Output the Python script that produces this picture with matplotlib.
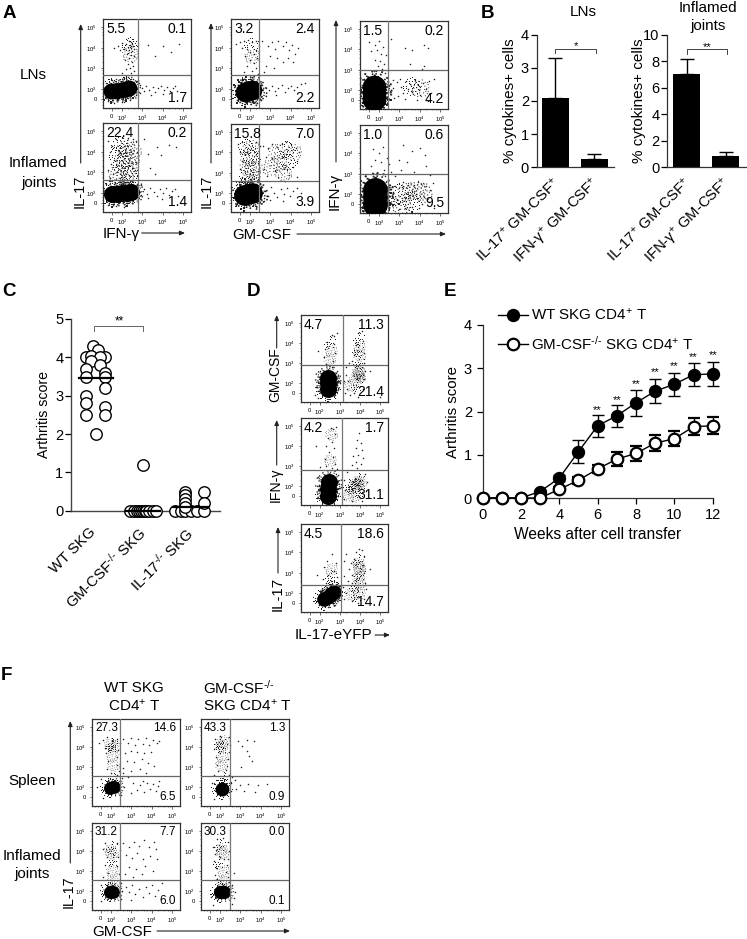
from matplotlib import use as setRenderingBackend
setRenderingBackend('Agg')

from numpy import log10
from matplotlib import pyplot as plt
from matplotlib.lines import Line2D
from matplotlib.markers import MarkerStyle
from matplotlib.path import Path
from matplotlib.transforms import Affine2D

W, H = 747, 939

plt.rcParams['font.family'] = ['Liberation Sans', 'DejaVu Sans']
plt.rcParams['mathtext.fontset'] = 'custom'
plt.rcParams['mathtext.rm'] = 'Liberation Sans'
plt.rcParams['mathtext.default'] = 'regular'

KO = '$^{\u2010/\u2010}$'

# Bars (panel B)
B_LN_VALUES = [2.1, 0.25]
B_LN_ERRORS = [1.2, 0.15]
B_JOINT_VALUES = [7.0, 0.85]
B_JOINT_ERRORS = [1.15, 0.3]
B_LABELS = ['IL-17$^{+}$ GM-CSF$^{+}$', 'IFN-γ$^{+}$ GM-CSF$^{+}$']

# Arthritis score per mouse (panel C): offset inside the group, score
C_WT = [(-0.06, 4.3), (0.04, 4.2), (-0.2, 4.0), (0.2, 4.0), (-0.1, 4.03), (0.09, 4.02), (-0.1, 3.9), (0.09, 3.8),
        (-0.2, 3.7), (0.2, 3.6), (-0.2, 3.5), (0.2, 3.5), (0.2, 3.2), (-0.2, 3.0), (-0.2, 2.8), (0.2, 2.7),
        (-0.2, 2.5), (0.2, 2.5), (0.0, 2.0)]
C_GM = [(-0.27, 0), (-0.2, 0), (-0.13, 0), (-0.08, 0), (-0.04, 0), (0, 0), (0.03, 0), (0.07, 0), (0.13, 0),
        (0.2, 0), (0.27, 0), (0, 1.2)]
C_IL17 = [(-0.32, 0), (-0.2, 0), (-0.11, 0), (0, 0), (0.13, 0), (0.28, 0), (-0.11, 0.5), (-0.11, 0.4), (-0.11, 0.3),
          (-0.11, 0.2), (-0.11, 0.1), (0.28, 0.5), (0.28, 0.2)]
C_MEANS = [3.45, 0.0, 0.1]
C_LABELS = ['WT SKG', 'GM-CSF' + KO + ' SKG', 'IL-17' + KO + ' SKG']

# Time course (panel E)
E_WEEKS = list(range(13))
E_WT = [0, 0, 0, 0.15, 0.46, 1.07, 1.67, 1.9, 2.2, 2.47, 2.63, 2.85, 2.87]
E_WT_ERR = [0, 0, 0, 0.04, 0.07, 0.27, 0.25, 0.25, 0.3, 0.27, 0.27, 0.27, 0.28]
E_KO = [0, 0, 0, 0, 0.2, 0.41, 0.67, 0.9, 1.03, 1.27, 1.37, 1.65, 1.67]
E_KO_ERR = [0, 0, 0, 0, 0.05, 0.08, 0.1, 0.17, 0.17, 0.18, 0.17, 0.19, 0.2]
E_STAR_WEEKS = [6, 7, 8, 9, 10, 11, 12]
E_STAR_Y = [2.05, 2.28, 2.65, 2.94, 3.08, 3.28, 3.32]

# Cytometry events, hand in decades of the axes.
# The dense parts are kept as a few core positions, the grainy parts as haze positions,
# the loose events as single dots.
A1T_CORE = [(1.45, 1.9), (1.7, 1.92), (1.95, 1.95), (2.2, 2.0), (2.35, 2.05)]
A1T_HAZE = [(2.4, 4.1), (2.4, 3.7)]
A1T_DOTS = [(2.35, 4.35), (2.45, 4.3), (2.5, 4.2), (2.4, 4.15), (2.55, 4.1), (2.3, 4.05), (2.45, 4.0), (2.6, 3.95),
            (2.35, 3.9), (2.5, 3.85), (2.2, 4.2), (2.0, 4.25), (1.8, 4.1), (1.9, 3.9), (2.1, 3.95), (1.6, 4.0),
            (2.25, 3.7), (2.45, 3.65), (2.6, 3.6), (2.35, 3.5), (2.15, 3.4), (2.5, 3.3), (2.3, 3.2), (2.55, 3.1),
            (2.4, 3.0), (2.2, 2.95), (2.6, 2.85), (2.0, 2.75), (2.45, 2.75), (2.3, 2.6), (2.1, 2.55), (2.55, 2.5),
            (1.7, 2.5), (3.3, 4.15), (4.0, 4.1), (4.8, 4.2), (3.6, 3.6), (4.4, 3.8), (2.9, 2.2), (3.0, 2.05),
            (3.1, 1.9), (3.2, 2.15), (3.35, 1.95), (3.5, 2.1), (3.6, 1.85), (3.75, 2.05), (3.9, 2.15), (4.05, 1.95),
            (4.2, 2.1), (4.35, 1.9), (4.5, 2.05), (4.6, 2.15), (4.7, 1.9), (3.45, 1.7), (4.0, 1.75), (2.9, 1.8),
            (1.3, 1.4), (1.6, 1.3), (2.0, 1.35), (2.4, 1.45), (2.7, 1.7), (2.75, 2.4), (1.2, 2.3), (1.5, 2.45)]

A1B_CORE = [(1.5, 1.95), (1.75, 1.95), (2.0, 1.98), (2.25, 2.0), (2.45, 2.05)]
A1B_HAZE = [(1.9, 4.3), (2.2, 4.2), (2.5, 4.1), (1.8, 3.8), (2.1, 3.7), (2.4, 3.7), (2.0, 3.3), (2.3, 3.2),
            (2.1, 2.8), (2.4, 2.8), (1.75, 2.9)]
A1B_DOTS = [(1.3, 4.5), (1.5, 4.3), (1.4, 4.0), (1.6, 3.6), (1.45, 3.4), (1.3, 3.1), (1.55, 2.9), (1.4, 2.7),
            (2.7, 4.5), (2.75, 4.0), (2.7, 3.5), (2.65, 3.1), (2.75, 2.8), (1.7, 4.6), (2.0, 4.7), (2.3, 4.65),
            (2.55, 4.6), (1.9, 4.0), (2.2, 3.95), (2.5, 3.45), (1.75, 3.3), (2.2, 2.9), (1.9, 2.7), (2.5, 2.6),
            (3.1, 4.6), (3.7, 4.25), (4.3, 4.35), (4.65, 4.25), (3.3, 3.9), (3.9, 3.85), (3.4, 3.2), (3.6, 2.9),
            (2.95, 2.4), (3.1, 2.2), (3.25, 1.95), (3.4, 2.25), (3.55, 2.05), (3.7, 1.85), (3.85, 2.2), (4.0, 2.0),
            (4.15, 2.25), (4.3, 1.9), (4.45, 2.1), (4.6, 2.2), (4.75, 1.85), (3.3, 1.75), (3.95, 1.7), (2.95, 1.9),
            (1.3, 1.4), (1.7, 1.35), (2.1, 1.3), (2.5, 1.5), (2.8, 1.7), (1.2, 2.45), (2.75, 2.45), (2.2, 2.55)]

A2T_CORE = [(1.75, 1.85), (1.95, 1.9), (2.1, 1.95)]
A2T_HAZE = [(2.1, 4.1), (2.1, 3.6)]
A2T_DOTS = [(1.3, 4.2), (1.5, 4.3), (1.7, 4.35), (1.9, 4.4), (2.1, 4.3), (2.3, 4.35), (2.45, 4.1), (1.6, 4.0),
            (1.85, 3.95), (2.3, 3.9), (2.0, 3.8), (2.2, 3.7), (1.75, 3.6), (2.35, 3.5), (2.0, 3.4), (2.2, 3.25),
            (1.85, 3.1), (2.3, 3.0), (2.1, 2.85), (1.7, 2.8), (2.4, 2.7), (2.6, 4.35), (2.9, 4.1), (3.1, 4.3),
            (3.25, 3.95), (3.4, 4.35), (3.6, 4.1), (3.75, 4.3), (3.9, 3.9), (4.05, 4.15), (4.2, 3.7), (4.35, 4.0),
            (3.0, 3.6), (3.35, 3.5), (3.6, 3.3), (3.85, 3.5), (4.1, 3.3), (2.8, 3.1), (3.2, 3.0), (2.7, 2.8),
            (2.6, 2.2), (2.8, 2.05), (2.95, 1.95), (3.1, 2.15), (3.25, 1.9), (3.4, 2.05), (3.55, 2.2), (3.7, 1.85),
            (3.85, 2.05), (4.0, 2.15), (4.15, 1.95), (4.3, 2.1), (4.5, 2.25), (4.7, 2.3), (3.3, 1.7), (2.3, 2.4),
            (2.0, 2.5), (1.7, 2.35), (1.3, 1.85), (2.5, 1.9), (1.6, 1.3), (2.1, 1.35)]

A2B_CORE = [(1.7, 1.9), (1.9, 1.95), (2.1, 2.0)]
A2B_HAZE = [(1.85, 4.2), (2.05, 4.2), (1.9, 3.8), (2.1, 3.7), (1.9, 3.3), (2.1, 3.2), (1.9, 2.8), (2.1, 2.8),
            (3.3, 4.0), (3.8, 4.1), (4.1, 4.0), (3.4, 3.5), (3.9, 3.5), (3.0, 3.3), (3.6, 3.0)]
A2B_DOTS = [(1.4, 4.4), (1.6, 4.5), (2.3, 4.5), (2.5, 4.3), (1.5, 4.0), (2.35, 3.95), (1.6, 3.6), (2.4, 3.5),
            (1.5, 3.2), (2.4, 3.1), (1.6, 2.8), (2.4, 2.7), (2.65, 4.3), (2.9, 4.2), (3.1, 4.4), (3.35, 4.25),
            (3.55, 4.4), (3.75, 4.5), (4.0, 4.4), (4.25, 4.2), (4.4, 4.0), (2.8, 3.8), (3.1, 3.75), (3.6, 3.8),
            (4.3, 3.6), (2.7, 3.2), (3.25, 3.1), (3.8, 3.2), (4.1, 3.3), (2.85, 2.85), (3.4, 2.8), (3.9, 2.9),
            (4.3, 2.8), (2.6, 2.3), (2.75, 2.1), (2.9, 1.85), (3.05, 2.3), (3.2, 2.0), (3.35, 1.8), (3.5, 2.2),
            (3.65, 1.95), (3.8, 2.25), (3.95, 1.85), (4.1, 2.1), (4.3, 2.25), (4.5, 2.0), (3.0, 1.65), (3.6, 1.6),
            (2.7, 1.6), (1.3, 1.4), (1.7, 1.3), (2.3, 1.35), (1.3, 2.4), (2.5, 2.5)]

A3T_CORE = [(1.75, 1.55), (1.75, 1.85), (1.78, 2.15)]
A3T_HAZE = [(3.6, 2.15), (4.0, 2.1)]
A3T_DOTS = [(1.5, 4.35), (1.8, 4.2), (2.0, 4.4), (2.2, 4.1), (1.6, 3.9), (1.9, 3.95), (2.1, 3.8), (2.35, 3.75),
            (1.8, 3.5), (2.05, 3.45), (2.25, 3.3), (1.95, 3.2), (2.15, 3.05), (1.75, 2.95), (2.3, 2.85), (2.05, 2.8),
            (2.6, 4.5), (3.3, 4.05), (3.6, 3.95), (4.2, 4.2), (4.4, 4.05), (3.5, 3.3), (4.2, 3.2), (4.1, 3.05),
            (2.9, 2.4), (3.1, 2.15), (3.2, 1.85), (3.35, 2.45), (3.5, 2.3), (3.6, 1.9), (3.75, 2.5), (3.9, 2.25),
            (4.0, 1.75), (4.15, 2.35), (4.3, 2.05), (4.45, 2.45), (3.3, 1.55), (3.85, 1.5), (2.95, 1.7), (3.05, 2.55),
            (4.55, 1.85), (4.7, 2.55), (4.4, 1.45), (2.7, 2.1), (2.75, 1.6), (2.7, 2.5), (3.45, 2.05), (3.95, 2.0)]

A3B_CORE = [(1.8, 1.5), (1.8, 1.85), (1.82, 2.2)]
A3B_HAZE = [(3.0, 2.0), (3.1, 1.5), (3.4, 2.1), (3.6, 1.6), (3.8, 2.2), (4.1, 2.1)]
A3B_DOTS = [(1.7, 4.2), (2.0, 4.0), (2.2, 4.3), (2.4, 3.8), (1.8, 3.7), (2.1, 3.6), (2.5, 3.5), (1.6, 3.4),
            (2.25, 3.2), (1.9, 3.05), (2.6, 3.1), (2.3, 2.9), (1.75, 2.85), (3.2, 4.4), (3.6, 4.1), (4.0, 4.25),
            (4.25, 3.9), (3.0, 3.7), (3.4, 3.6), (4.3, 3.4), (3.1, 3.2), (3.7, 3.1), (4.5, 2.95), (2.8, 2.9),
            (2.8, 2.4), (2.9, 1.7), (3.0, 1.25), (3.15, 2.35), (3.3, 1.8), (3.3, 1.3), (3.45, 2.45), (3.5, 1.95),
            (3.6, 1.35), (3.7, 2.45), (3.85, 1.8), (3.95, 1.3), (4.05, 2.5), (4.2, 1.85), (4.3, 2.4), (4.45, 1.6),
            (4.5, 2.2), (4.65, 2.55), (4.7, 1.3), (2.7, 2.1), (2.8, 1.45), (3.2, 2.6), (3.9, 2.6), (4.1, 1.5)]

D1_CORE = [(2.4, 1.7), (2.4, 2.0), (2.42, 2.25)]
D1_HAZE = [(2.5, 4.0), (2.55, 3.6), (2.45, 3.2), (3.95, 4.2), (3.95, 3.8), (3.95, 3.4), (3.95, 3.0), (3.75, 2.2),
           (3.5, 1.9), (3.85, 1.85), (3.95, 2.55), (3.9, 2.45), (3.98, 2.4), (3.92, 2.6), (3.95, 2.3), (3.9, 3.6)]
D1_DOTS = [(2.85, 4.5), (2.7, 4.35), (2.6, 4.4), (2.35, 4.05), (2.7, 3.95), (2.25, 3.7), (2.75, 3.5), (2.2, 3.3),
           (2.65, 3.1), (2.3, 2.95), (2.6, 2.8), (4.1, 4.6), (3.9, 4.5), (4.15, 4.1), (3.8, 3.9), (4.2, 3.5),
           (3.7, 3.4), (3.6, 3.1), (4.2, 3.0), (3.45, 3.0), (3.3, 2.8), (3.3, 2.4), (3.4, 2.1), (3.35, 1.7),
           (3.5, 1.4), (3.7, 1.5), (3.9, 1.3), (4.15, 1.7), (4.2, 2.2), (4.25, 2.6), (3.2, 2.1), (3.25, 1.5),
           (1.8, 1.8), (1.95, 2.3), (1.75, 1.4), (1.9, 1.25), (2.75, 1.4), (2.85, 2.1), (2.9, 1.7), (2.8, 2.5),
           (2.0, 2.6), (1.9, 3.6), (5.0, 1.3), (4.5, 2.6)]

D2_CORE = [(2.42, 1.5), (2.42, 1.85), (2.45, 2.2)]
D2_HAZE = [(3.45, 2.0), (3.4, 1.55), (3.7, 1.5), (3.95, 1.7), (2.5, 3.3), (2.55, 4.6), (3.95, 2.3), (3.9, 2.25),
           (3.98, 2.2), (3.75, 2.05), (3.7, 2.0), (3.85, 2.1), (3.6, 1.9)]
D2_DOTS = [(2.8, 4.95), (2.65, 4.85), (2.55, 4.9), (2.75, 4.6), (2.4, 4.4), (2.6, 4.2), (2.3, 4.0), (2.7, 3.9),
           (2.45, 3.7), (2.65, 3.45), (2.25, 3.35), (2.75, 3.1), (2.3, 3.0), (2.6, 2.9), (2.0, 2.95), (2.85, 2.85),
           (3.95, 4.65), (3.85, 4.3), (4.05, 4.15), (3.8, 3.9), (4.1, 3.8), (3.9, 3.55), (3.65, 3.5), (4.15, 3.4),
           (3.8, 3.2), (4.05, 3.1), (3.6, 3.05), (3.85, 2.9), (3.35, 2.7), (4.25, 2.6), (3.2, 2.3), (3.25, 1.8),
           (3.2, 1.35), (3.6, 1.25), (4.1, 1.25), (4.3, 1.75), (4.35, 2.2), (1.85, 1.4), (1.95, 2.0), (1.9, 2.45),
           (2.85, 2.1), (2.9, 1.5), (2.8, 2.6), (1.8, 4.0)]

D3_CORE = [(2.2, 1.7), (2.4, 1.8), (2.55, 1.95), (2.7, 2.05)]
D3_HAZE = [(3.95, 3.6), (3.95, 3.2), (3.9, 2.8), (3.75, 2.3), (3.95, 2.0), (3.5, 1.95), (2.55, 2.8), (2.55, 3.2),
           (3.95, 3.3), (4.0, 2.9), (3.9, 3.5), (3.95, 2.5), (3.85, 1.85)]
D3_DOTS = [(2.6, 3.9), (2.35, 3.6), (2.8, 3.5), (2.2, 3.3), (2.7, 3.1), (2.4, 2.9), (2.85, 2.8), (2.15, 2.7),
           (2.55, 2.6), (2.3, 2.5), (2.85, 2.45), (1.85, 2.9), (4.1, 4.1), (3.95, 4.15), (3.8, 4.0), (4.2, 3.85),
           (3.7, 3.7), (4.15, 3.4), (3.55, 3.5), (3.3, 3.9), (3.2, 3.6), (3.45, 3.2), (3.6, 2.9), (4.2, 3.0),
           (3.2, 2.85), (3.4, 2.6), (3.6, 2.5), (4.25, 2.5), (3.15, 2.3), (3.3, 2.0), (3.2, 1.7), (3.6, 1.6),
           (3.9, 1.5), (4.2, 1.7), (4.3, 2.2), (2.95, 2.0), (2.9, 1.7), (1.85, 1.75), (1.95, 1.4), (2.4, 1.3),
           (2.75, 1.4), (3.0, 2.35), (4.5, 3.2)]

F1T_CORE = [(1.95, 1.95), (2.15, 2.0)]
F1T_HAZE = [(2.05, 4.1), (1.95, 4.15), (2.15, 4.05), (2.05, 4.0), (2.05, 3.6), (2.1, 3.1), (2.15, 2.35)]
F1T_DOTS = [(1.4, 4.2), (1.6, 4.35), (1.7, 3.95), (1.8, 4.5), (2.3, 4.4), (2.45, 4.2), (2.35, 3.85), (1.75, 3.7),
            (2.3, 3.5), (1.85, 3.3), (2.3, 3.1), (1.8, 2.9), (2.4, 2.8), (2.0, 2.7), (2.6, 4.4), (2.85, 4.2),
            (3.0, 4.45), (3.2, 4.1), (3.35, 4.4), (3.55, 4.15), (3.7, 4.45), (3.85, 4.1), (4.05, 4.35), (4.25, 4.2),
            (4.35, 4.3), (2.7, 3.7), (3.0, 3.8), (3.3, 3.75), (3.6, 3.7), (3.95, 3.75), (2.8, 3.3), (3.15, 3.25),
            (3.5, 3.4), (3.8, 3.2), (4.1, 3.05), (2.6, 2.95), (3.0, 2.8), (3.45, 2.9), (3.7, 2.7), (2.6, 2.7),
            (2.85, 2.5), (3.1, 2.2), (3.3, 1.85), (3.45, 2.1), (3.6, 1.75), (3.75, 2.2), (3.9, 1.9), (4.05, 2.15),
            (4.2, 1.8), (4.3, 2.05), (4.35, 2.3), (3.0, 1.7), (3.55, 2.3), (2.55, 2.45), (2.45, 2.3), (2.3, 2.6),
            (2.65, 2.0), (1.6, 1.45), (2.5, 1.6), (1.3, 2.0), (1.5, 2.4)]

F2T_CORE = [(2.1, 1.9)]
F2T_HAZE = [(2.0, 4.2), (2.15, 4.3), (2.05, 4.05), (2.1, 3.95), (2.1, 3.5), (2.05, 3.1), (2.2, 2.4)]
F2T_DOTS = [(1.75, 4.4), (2.0, 4.55), (2.45, 4.5), (2.5, 4.1), (1.7, 3.9), (2.45, 3.75), (1.8, 3.5), (2.4, 3.4),
            (1.85, 3.1), (2.35, 3.05), (1.9, 2.8), (2.3, 2.85), (2.45, 2.6), (1.7, 2.6), (2.6, 2.5), (2.75, 2.35),
            (2.55, 2.2), (2.8, 1.9), (3.0, 2.1), (3.2, 1.8), (3.4, 2.15), (3.7, 1.75), (3.85, 2.1), (4.3, 2.15),
            (2.9, 4.3), (3.1, 4.05), (3.35, 4.35), (3.65, 4.3), (3.35, 3.8), (3.45, 3.55), (3.55, 3.3), (3.05, 3.0),
            (1.7, 1.4), (2.5, 1.45), (1.6, 2.2), (2.55, 1.8)]

F1B_CORE = [(1.95, 1.95), (2.1, 1.95)]
F1B_HAZE = [(2.05, 4.15), (1.95, 4.05), (2.05, 3.9), (2.1, 3.5), (2.05, 3.0), (2.1, 2.5)]
F1B_DOTS = [(1.7, 4.4), (1.6, 4.1), (2.3, 4.4), (2.45, 4.05), (1.8, 3.7), (2.35, 3.7), (1.7, 3.3), (2.3, 3.25),
            (1.85, 2.9), (2.4, 2.85), (1.6, 2.7), (2.5, 2.4), (1.5, 2.3), (2.6, 4.4), (2.9, 4.2), (3.15, 4.45),
            (3.4, 4.25), (3.6, 4.55), (3.85, 4.2), (4.1, 4.45), (4.2, 4.1), (2.75, 3.8), (3.05, 3.65), (3.3, 3.9),
            (3.55, 3.6), (3.9, 3.75), (4.25, 3.6), (2.9, 3.2), (3.25, 3.1), (3.65, 3.25), (4.05, 3.0), (2.7, 2.85),
            (3.1, 2.7), (3.5, 2.85), (2.75, 2.2), (2.9, 1.95), (3.05, 2.3), (3.2, 1.85), (3.4, 2.1), (3.55, 1.7),
            (3.7, 2.2), (3.85, 1.9), (4.0, 2.3), (4.15, 1.75), (4.3, 2.05), (4.5, 2.4), (4.45, 1.6), (3.0, 1.55),
            (1.5, 1.5), (2.5, 1.6), (2.55, 2.0), (2.45, 2.15)]

F2B_CORE = [(2.0, 1.95), (2.2, 1.95)]
F2B_HAZE = [(2.0, 4.25), (2.05, 4.1), (2.1, 3.9), (1.95, 3.4), (2.15, 3.0), (2.1, 2.5)]
F2B_DOTS = [(1.85, 4.6), (2.15, 4.65), (2.4, 4.45), (1.65, 4.2), (2.45, 4.0), (1.75, 3.85), (2.4, 3.6), (1.7, 3.5),
            (2.35, 3.3), (1.8, 3.15), (2.3, 2.95), (1.75, 2.8), (2.4, 2.7), (1.85, 2.6), (2.45, 2.45), (2.7, 2.9),
            (2.75, 1.95), (2.7, 1.65), (2.6, 2.3), (1.55, 1.7), (2.6, 1.35), (1.65, 1.3), (2.0, 3.7), (2.2, 3.6)]

# box in pixels, gates, corner percentages
FLOW_PANELS = [
    ((103, 19, 191, 108), 2.8, 2.67, ('5.5', '0.1', '1.7'), A1T_CORE, 130, A1T_HAZE, 150, A1T_DOTS, 10),
    ((103, 123, 191, 212), 2.8, 2.65, ('22.4', '0.2', '1.4'), A1B_CORE, 150, A1B_HAZE, 200, A1B_DOTS, 10),
    ((231, 19, 319, 108), 2.43, 2.67, ('3.2', '2.4', '2.2'), A2T_CORE, 200, A2T_HAZE, 130, A2T_DOTS, 10),
    ((231, 124, 319, 212), 2.43, 2.6, ('15.8', '7.0', '3.9'), A2B_CORE, 220, A2B_HAZE, 170, A2B_DOTS, 10),
    ((360, 21, 448, 109), 2.43, 3.0, ('1.5', '0.2', '4.2'), A3T_CORE, 290, A3T_HAZE, 200, A3T_DOTS, 10),
    ((360, 125, 448, 213), 2.43, 3.0, ('1.0', '0.6', '9.5'), A3B_CORE, 320, A3B_HAZE, 230, A3B_DOTS, 10),
    ((301, 315, 388, 402), 3.15, 2.91, ('4.7', '11.3', '21.4'), D1_CORE, 150, D1_HAZE, 90, D1_DOTS, 10),
    ((301, 418, 388, 505), 3.09, 2.83, ('4.2', '1.7', '31.1'), D2_CORE, 150, D2_HAZE, 90, D2_DOTS, 10),
    ((301, 524, 388, 612), 3.05, 2.39, ('4.5', '18.6', '14.7'), D3_CORE, 110, D3_HAZE, 90, D3_DOTS, 10),
    ((92, 719, 180, 806), 2.43, 2.57, ('27.3', '14.6', '6.5'), F1T_CORE, 85, F1T_HAZE, 90, F1T_DOTS, 8.5),
    ((201, 719, 289, 806), 2.5, 2.57, ('43.3', '1.3', '0.9'), F2T_CORE, 100, F2T_HAZE, 90, F2T_DOTS, 8.5),
    ((92, 823, 180, 910), 2.43, 2.54, ('31.2', '7.7', '6.0'), F1B_CORE, 85, F1B_HAZE, 90, F1B_DOTS, 8.5),
    ((201, 823, 289, 910), 2.5, 2.54, ('30.3', '0.0', '0.1'), F2B_CORE, 90, F2B_HAZE, 90, F2B_DOTS, 8.5),
]

DECADE_TICKS = [1.5, 2, 3, 4, 5]
DECADE_LABELS = ['0', '$10^2$', '$10^3$', '$10^4$', '$10^5$']
MINOR_TICKS = [d + log10(m) for d in (2, 3, 4) for m in (2, 4, 6, 8)] + [1.2, 1.35, 1.65, 1.8]

# grain of one stipple marker, a style and not data
GRAIN = [(-0.9, 0.1), (-0.75, -0.4), (-0.7, 0.45), (-0.55, 0.05), (-0.5, -0.7), (-0.45, 0.75), (-0.35, -0.25),
         (-0.3, 0.35), (-0.2, -0.85), (-0.15, 0.9), (-0.1, -0.5), (-0.05, 0.1), (0.05, 0.55), (0.1, -0.2),
         (0.15, -0.75), (0.25, 0.8), (0.3, 0.25), (0.35, -0.45), (0.45, 0.5), (0.5, -0.05), (0.55, -0.7),
         (0.65, 0.3), (0.7, -0.3), (0.8, 0.55), (0.9, -0.05), (-0.6, -0.2), (-0.25, 0.6), (0.2, -0.05),
         (0.05, 0.95), (0.4, 0.75), (-0.85, -0.2), (-0.4, -0.5), (0.75, 0.05), (0.0, -0.95)]


def stipple_marker(angle):
    squares = [Path.unit_rectangle().transformed(Affine2D().scale(0.1).translate(x - 0.05, y - 0.05))
               for x, y in GRAIN]
    return MarkerStyle(Path.make_compound_path(*squares).transformed(Affine2D().rotate_deg(angle)))


STIPPLES = [stipple_marker(angle) for angle in (0, 130, 250)]


def axes_px(fig, x0, y0, x1, y1):
    return fig.add_axes([x0 / W, 1 - y1 / H, (x1 - x0) / W, (y1 - y0) / H])


def shift_labels(labels, dx):
    for text in labels:
        text.set_transform(text.get_transform() + Affine2D().translate(dx, 0))


def draw_stipple(ax, points, size, zorder):
    for i, marker in enumerate(STIPPLES):
        part = points[i::3]
        if part:
            px, py = zip(*part)
            ax.scatter(px, py, s=size, marker=marker, color='#222222', linewidths=0, zorder=zorder)


def draw_flow(fig, box, x_gate, y_gate, labels, core, core_s, haze, haze_s, dots, size):
    ax = axes_px(fig, *box)
    ax.set_xlim(1.07, 5.39)
    ax.set_ylim(1.07, 5.4)
    draw_stipple(ax, haze, haze_s, 1)
    draw_stipple(ax, core, core_s * 2.6, 2)
    draw_stipple(ax, core, core_s * 1.8, 2)
    cx, cy = zip(*core)
    ax.scatter(cx, cy, s=core_s, color='black', linewidths=0, zorder=3)
    dx, dy = zip(*dots)
    ax.scatter(dx, dy, s=1.2, color='#222222', linewidths=0, zorder=3)
    ax.axvline(x_gate, color='#777777', lw=0.9, zorder=4)
    ax.axhline(y_gate, color='#666666', lw=0.9, zorder=4)
    for spine in ax.spines.values():
        spine.set_linewidth(0.9)
        spine.set_color('#333333')
    ax.set_xticks(DECADE_TICKS)
    ax.set_xticklabels(DECADE_LABELS, fontsize=4.2)
    ax.set_yticks(DECADE_TICKS)
    ax.set_yticklabels(DECADE_LABELS, fontsize=4.2)
    ax.set_xticks(MINOR_TICKS, minor=True)
    ax.set_yticks(MINOR_TICKS, minor=True)
    ax.tick_params(length=1.8, width=0.5, pad=2.5, color='#333333')
    ax.tick_params(which='minor', length=1, width=0.4, color='#333333')
    for text, corner, offset, ha, va in ((labels[0], (0, 1), (3, -3), 'left', 'top'),
                                         (labels[1], (1, 1), (-4, -3), 'right', 'top'),
                                         (labels[2], (1, 0), (-4, 3), 'right', 'bottom')):
        ax.annotate(text, xy=corner, xycoords='axes fraction', xytext=offset, textcoords='offset pixels',
                    fontsize=size, ha=ha, va=va, zorder=5)


def draw_bars(fig, box, ymax, ticks, values, errors, xlim, bracket_y, stars):
    ax = axes_px(fig, *box)
    ax.bar([0, 1], values, width=0.69, color='black')
    ax.errorbar([0, 1], values, yerr=[[0, 0], errors], fmt='none', ecolor='black', elinewidth=1, capsize=5, capthick=1)
    ax.set_xlim(*xlim)
    ax.set_ylim(0, ymax)
    ax.set_yticks(ticks)
    ax.tick_params(axis='y', labelsize=10.5, length=4, width=0.9, pad=1.5)
    ax.set_xticks([0, 1])
    ax.set_xticklabels(B_LABELS, rotation=45, ha='right', rotation_mode='anchor', fontsize=10.7)
    ax.tick_params(axis='x', length=0, pad=5)
    shift_labels(ax.get_xticklabels(), -4)
    for side in ('top', 'right'):
        ax.spines[side].set_visible(False)
    for side in ('left', 'bottom'):
        ax.spines[side].set_linewidth(0.9)
        ax.spines[side].set_color('#333333')
    drop = ymax * 0.035
    ax.plot([0.0, 0.0, 1.05, 1.05], [bracket_y - drop, bracket_y, bracket_y, bracket_y - drop], color='#444444',
            lw=0.7)
    ax.text(0.52, bracket_y - ymax * 0.02, stars, ha='center', va='bottom', fontsize=8)


def draw_c(fig):
    ax = axes_px(fig, 71, 319, 220, 510.7)
    ax.set_xlim(0.48, 3.62)
    ax.set_ylim(0, 5)
    for pos, group, mean in zip((1, 2, 3), (C_WT, C_GM, C_IL17), C_MEANS):
        offs, scores = zip(*group)
        ax.scatter([pos + o for o in offs], scores, s=68, facecolor='white', edgecolor='black', linewidths=1,
                   clip_on=False, zorder=3)
        ax.plot([pos - 0.36, pos + 0.36], [mean, mean], color='black', lw=1.6, zorder=4, clip_on=False)
    ax.set_xticks([1, 2, 3])
    ax.set_xticklabels(C_LABELS, rotation=45, ha='right', rotation_mode='anchor', fontsize=10.7)
    ax.tick_params(axis='x', length=0, pad=10)
    shift_labels(ax.get_xticklabels(), -7)
    ax.set_yticks(range(6))
    ax.tick_params(axis='y', labelsize=10.5, length=4, width=0.9, pad=1.5)
    for side in ('top', 'right'):
        ax.spines[side].set_visible(False)
    for side in ('left', 'bottom'):
        ax.spines[side].set_linewidth(1)
        ax.spines[side].set_color('#444444')
    ax.plot([0.96, 0.96, 2.0, 2.0], [4.69, 4.82, 4.82, 4.69], color='#666666', lw=0.7, clip_on=False)
    ax.text(1.5, 4.78, '**', ha='center', va='bottom', fontsize=8.5, clip_on=False)
    ax.set_ylabel('Arthritis score', fontsize=10.2, labelpad=3)


def draw_e(fig):
    ax = axes_px(fig, 482.5, 325, 712.7, 498)
    ax.set_xlim(0, 12)
    ax.set_ylim(0, 4)
    ax.errorbar(E_WEEKS, E_WT, yerr=E_WT_ERR, color='black', lw=1, capsize=4.5, capthick=1, elinewidth=1,
                marker='o', ms=8.6, mfc='black', mec='black', clip_on=False, zorder=3)
    ax.errorbar(E_WEEKS, E_KO, yerr=E_KO_ERR, color='black', lw=1, capsize=4.5, capthick=1, elinewidth=1,
                marker='o', ms=8.3, mfc='white', mec='black', mew=1.6, clip_on=False, zorder=4)
    for week, y in zip(E_STAR_WEEKS, E_STAR_Y):
        ax.text(week, y - 0.14, '**', ha='center', va='bottom', fontsize=8, clip_on=False)
    ax.set_xticks(range(0, 13, 2))
    ax.set_yticks(range(5))
    ax.tick_params(labelsize=10.5, length=4, width=0.9, pad=3.5)
    for side in ('top', 'right'):
        ax.spines[side].set_visible(False)
    for side in ('left', 'bottom'):
        ax.spines[side].set_linewidth(0.9)
        ax.spines[side].set_color('#333333')
    ax.set_xlabel('Weeks after cell transfer', fontsize=11.2, labelpad=3)
    ax.set_ylabel('Arthritis score', fontsize=10.8, labelpad=3)
    handles = [Line2D([], [], color='black', lw=1, marker='o', ms=8.6, mfc='black', mec='black'),
               Line2D([], [], color='black', lw=1, marker='o', ms=8.3, mfc='white', mec='black', mew=1.6)]
    ax.legend(handles, ['WT SKG CD4$^{+}$ T', 'GM-CSF' + KO + ' SKG CD4$^{+}$ T'], loc='upper left',
              bbox_to_anchor=(498 / W, 1 - 307 / H), bbox_transform=fig.transFigure, frameon=False, fontsize=10.9,
              handlelength=1.95, handletextpad=0.25, labelspacing=0.75, borderpad=0, borderaxespad=0)


def main():
    fig = plt.figure(figsize=(W / 100, H / 100), dpi=100)

    for panel in FLOW_PANELS:
        draw_flow(fig, *panel)

    draw_bars(fig, (536.7, 34.7, 614, 167.3), 4, range(5), B_LN_VALUES, B_LN_ERRORS, (-0.474, 1.5), 3.58, '*')
    draw_bars(fig, (667, 34.7, 747, 167.3), 10, range(0, 11, 2), B_JOINT_VALUES, B_JOINT_ERRORS, (-0.5, 1.55), 8.9,
              '**')

    draw_c(fig)
    draw_e(fig)

    # pixel overlay for letters, side labels and arrows
    top = fig.add_axes([0, 0, 1, 1], zorder=10)
    top.set_xlim(0, W)
    top.set_ylim(H, 0)
    top.axis('off')
    top.patch.set_alpha(0)

    def label(x, y, s, size=11, ha='center', rotation=0, weight='normal'):
        top.text(x, y, s, fontsize=size, ha=ha, va='center', rotation=rotation, fontweight=weight)

    def arrow(x0, y0, x1, y1):
        top.annotate('', xy=(x1, y1), xytext=(x0, y0),
                     arrowprops=dict(arrowstyle='-|>,head_width=0.13,head_length=0.3', color='#222222', lw=0.8,
                                     shrinkA=0, shrinkB=0))

    for letter, x, y in (('A', 9, 14), ('B', 488, 13), ('C', 9, 292), ('D', 254, 292), ('E', 450, 292), ('F', 6, 675)):
        label(x, y, letter, size=13.5, weight='bold')

    label(33.7, 74.7, 'LNs')
    label(38, 163, 'Inflamed')
    label(38.7, 183, 'joints')
    label(80, 191.7, 'IL-17', rotation=90, size=10.5)
    arrow(80.7, 163, 80.7, 24)
    label(103, 234, 'IFN-γ', ha='left')
    arrow(141.7, 233, 185, 233)
    label(207, 191.7, 'IL-17', rotation=90, size=10.5)
    arrow(211, 163, 211, 23)
    label(232.7, 235, 'GM-CSF', ha='left', size=10.8)
    arrow(297, 234, 446, 234)
    label(335, 191.7, 'IFN-γ', rotation=90)
    arrow(336, 162, 336, 20)

    label(583, 12, 'LNs')
    label(708, 8, 'Inflamed')
    label(708, 26, 'joints')
    label(510, 101, '% cytokines+ cells', rotation=90)
    label(639, 101, '% cytokines+ cells', rotation=90)

    label(275.7, 375, 'GM-CSF', rotation=90, size=10)
    arrow(276.7, 348, 276.7, 315)
    label(276, 485, 'IFN-γ', rotation=90, size=10.2)
    arrow(276.7, 465, 276.7, 420)
    label(278, 594, 'IL-17', rotation=90, size=10.8)
    arrow(278, 573, 278, 527)
    label(295, 635, 'IL-17-eYFP', ha='left')
    arrow(375, 635, 390, 635)

    label(134, 688, 'WT SKG')
    label(134, 706, 'CD4$^{+}$ T')
    label(203, 688, 'GM-CSF' + KO, ha='left')
    label(203, 706, 'SKG CD4$^{+}$ T', ha='left')
    label(32, 780.7, 'Spleen')
    label(32, 855.7, 'Inflamed')
    label(32, 874, 'joints')
    label(69, 891.7, 'IL-17', rotation=90, size=10.3)
    arrow(70.3, 863, 70.3, 721)
    label(92, 932, 'GM-CSF', ha='left')
    arrow(157, 931, 290, 931)

    fig.savefig('out.png', dpi=100)


if __name__ == '__main__':
    main()
